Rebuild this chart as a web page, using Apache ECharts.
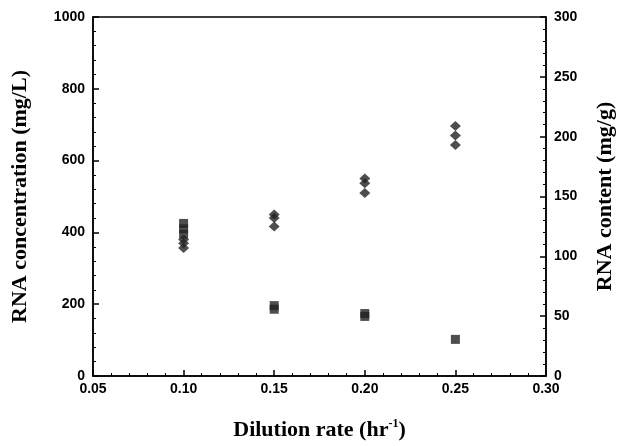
<!DOCTYPE html>
<html><head><meta charset="utf-8">
<script src="https://cdn.jsdelivr.net/npm/echarts@6/dist/echarts.min.js"></script>
<style>html,body{margin:0;padding:0;background:#fff}#c{width:624px;height:446px}</style>
</head><body><div id="c"></div>
<script>
// Dilution rate (hr^-1) for each measurement
const diamondX = [0.10, 0.10, 0.10, 0.15, 0.15, 0.15, 0.20, 0.20, 0.20, 0.25, 0.25, 0.25];
// RNA content (mg/g), right axis
const diamondY = [114, 111, 107, 135, 132, 125, 165, 161, 153, 209, 201, 193];
const squareX = [0.10, 0.10, 0.10, 0.15, 0.15, 0.20, 0.20, 0.25];
// RNA concentration (mg/L), left axis
const squareY = [425, 410, 395, 196, 186, 174, 166, 102];

const xTicks = [0.05, 0.10, 0.15, 0.20, 0.25, 0.30];
const leftTicks = [0, 200, 400, 600, 800, 1000];
const rightTicks = [0, 50, 100, 150, 200, 250, 300];

const pair = (xs, ys) => xs.map((x, i) => [x, ys[i]]);
const lbl = {color: '#000', fontFamily: 'Liberation Sans, Arial', fontWeight: 'bold', fontSize: 14};
const nameFont = {fontFamily: 'Liberation Serif, Times New Roman', fontWeight: 'bold', fontSize: 22, color: '#000'};
const line = {show: true, lineStyle: {color: '#000', width: 1.5}};
const tick = {show: true, inside: true, length: 6, lineStyle: {color: '#000', width: 1.5}};
const minor = {show: true, splitNumber: 5, length: 3, lineStyle: {color: '#000', width: 1}};
const chart = echarts.init(document.getElementById('c'), null, {renderer: 'canvas'});
chart.setOption({
  animation: false,
  backgroundColor: '#fff',
  grid: {left: 93, right: 77, top: 17, bottom: 62, show: true, borderColor: '#000', borderWidth: 1.5, backgroundColor: 'transparent'},
  xAxis: {
    type: 'value', min: 0.05, max: 0.30, interval: 0.05,
    axisLine: line, axisTick: tick, minorTick: minor,
    splitLine: {show: false},
    axisLabel: Object.assign({margin: 6, formatter: v => v.toFixed(2)}, lbl),
    name: '{a|Dilution rate (hr}{s|-1}{a|)}',
    nameLocation: 'middle', nameGap: 42,
    nameTextStyle: {rich: {
      a: nameFont,
      s: {fontFamily: 'Liberation Serif, Times New Roman', fontWeight: 'bold', fontSize: 12, color: '#000', verticalAlign: 'top', padding: [0, 0, 12, 0]}
    }}
  },
  yAxis: [{
    type: 'value', min: 0, max: 1000, interval: 200, position: 'left',
    axisLine: line, axisTick: tick, minorTick: minor,
    splitLine: {show: false},
    axisLabel: Object.assign({margin: 8, formatter: v => String(v)}, lbl),
    name: 'RNA concentration (mg/L)', nameLocation: 'middle', nameGap: 62, nameRotate: 90,
    nameTextStyle: nameFont
  }, {
    type: 'value', min: 0, max: 300, interval: 50, position: 'right',
    axisLine: line, axisTick: tick, minorTick: minor,
    splitLine: {show: false},
    axisLabel: Object.assign({margin: 8, formatter: v => String(v)}, lbl),
    name: 'RNA content (mg/g)', nameLocation: 'middle', nameGap: 48, nameRotate: 90,
    nameTextStyle: nameFont
  }],
  series: [{
    type: 'scatter', yAxisIndex: 1, symbol: 'diamond', symbolSize: [11, 10],
    itemStyle: {color: '#222'}, data: pair(diamondX, diamondY)
  }, {
    type: 'scatter', yAxisIndex: 0, symbol: 'rect', symbolSize: [9, 9],
    itemStyle: {color: '#222'}, data: pair(squareX, squareY)
  }]
});
</script></body></html>
